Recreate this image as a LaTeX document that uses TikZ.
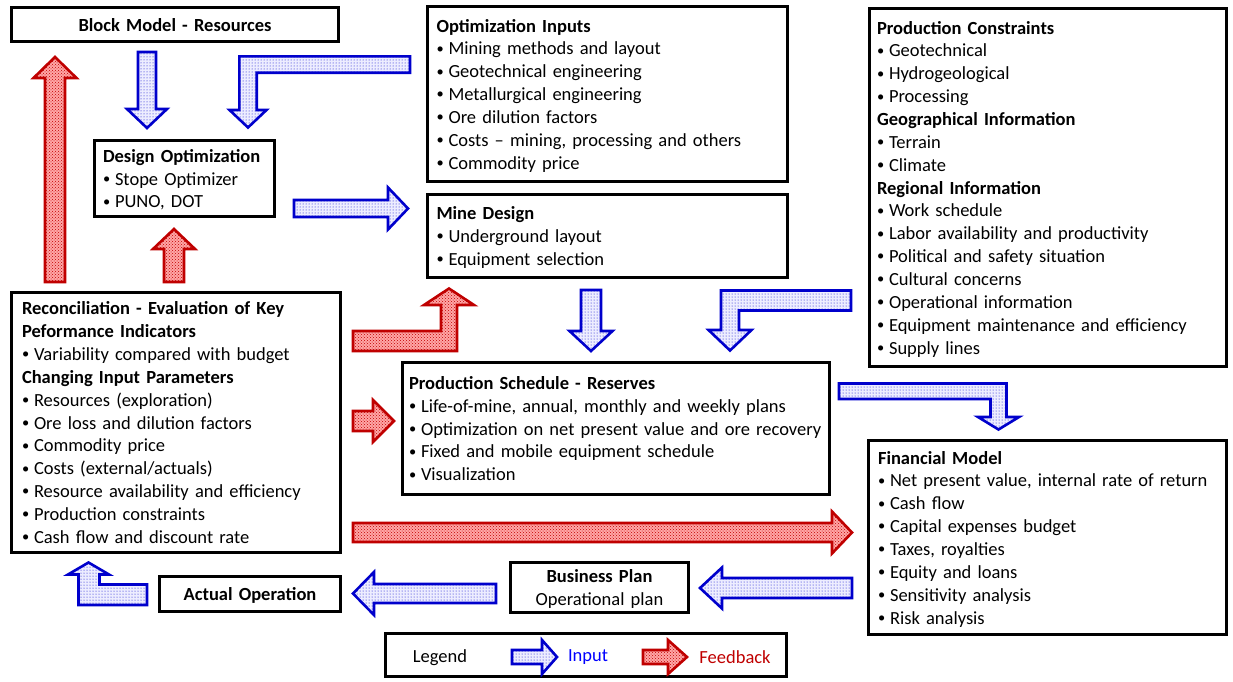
\documentclass[tikz,border=0pt]{standalone}
\usepackage{fontspec}
\setmainfont{Carlito}
\usetikzlibrary{patterns}
\definecolor{inblue}{RGB}{0,0,204}
\definecolor{fbred}{RGB}{192,0,0}
\newcommand\st{\rule[-4.85pt]{0pt}{22.85pt}}
\newcommand\bul{\makebox[12pt][l]{\raisebox{0.09em}{\scalebox{0.78}{\textbullet}}}}
\newcommand\bl[1]{\mbox{\st\bul#1}}
\newcommand\hd[1]{\mbox{\st\textbf{#1}}}
% straight block arrow: style, tail x, tail y, angle, length, head length, half shaft, half head
\newcommand\sarrow[8]{%
  \begin{scope}[shift={(#2,#3)},rotate=#4]
    \path[#1] (0,-#7) -- ({#5-#6},-#7) -- ({#5-#6},-#8) -- (#5,0) -- ({#5-#6},#8) -- ({#5-#6},#7) -- (0,#7) -- cycle;
  \end{scope}}
\tikzset{
  box/.style={draw=black, line width=3pt, fill=white, align=left, inner ysep=0pt,
    font=\fontsize{18.5}{22.85}\selectfont},
  inarr/.style={preaction={fill=blue!7}, preaction={pattern=dots, pattern color=inblue},
    draw=inblue, line width=2.6pt, line join=miter},
  fbarr/.style={preaction={fill=red!35}, preaction={pattern=crosshatch dots, pattern color=fbred},
    draw=fbred, line width=2.6pt, line join=miter},
  lab/.style={font=\fontsize{18.5}{22.85}\selectfont, inner sep=0pt}
}
\begin{document}
\begin{tikzpicture}[x=1pt,y=-1pt]
\path[fill=white,use as bounding box] (0,0) rectangle (1233,681);

% boxes
\node[box, align=center, text width=309pt, minimum height=34pt, inner xsep=9pt] (bm) at (175,24.5)
  {\hd{Block Model - Resources}};
\node[box, text width=342pt, minimum height=175pt, inner xsep=9pt] (oi) at (607.5,94)
  {\hd{Optimization Inputs}\\ \bl{Mining methods and layout}\\ \bl{Geotechnical engineering}\\
   \bl{Metallurgical engineering}\\ \bl{Ore dilution factors}\\
   \bl{Costs -- mining, processing and others}\\ \bl{Commodity price}};
\node[box, text width=342pt, minimum height=83pt, inner xsep=9pt] (md) at (607.5,236)
  {\hd{Mine Design}\\ \bl{Underground layout}\\ \bl{Equipment selection}};
\node[box, text width=163pt, minimum height=76pt, inner xsep=8.5pt] (do) at (184.5,178.5)
  {\hd{Design Optimization}\\ \bl{Stope Optimizer}\\ \bl{PUNO, DOT}};
\node[box, text width=342pt, minimum height=358pt, inner xsep=7.5pt] (pc) at (1048,187.5)
  {\hd{Production Constraints}\\ \bl{Geotechnical}\\ \bl{Hydrogeological}\\ \bl{Processing}\\
   \hd{Geographical Information}\\ \bl{Terrain}\\ \bl{Climate}\\
   \hd{Regional Information}\\ \bl{Work schedule}\\ \bl{Labor availability and productivity}\\
   \bl{Political and safety situation}\\ \bl{Cultural concerns}\\ \bl{Operational information}\\
   \bl{Equipment maintenance and efficiency}\\ \bl{Supply lines}};
\node[box, text width=308pt, minimum height=260pt, inner xsep=10.5pt] (rec) at (176,422.5)
  {\hd{Reconciliation - Evaluation of Key}\\ \hd{Peformance Indicators}\\
   \bl{Variability compared with budget}\\ \hd{Changing Input Parameters}\\
   \bl{Resources (exploration)}\\ \bl{Ore loss and dilution factors}\\ \bl{Commodity price}\\
   \bl{Costs (external/actuals)}\\ \bl{Resource availability and efficiency}\\
   \bl{Production constraints}\\ \bl{Cash flow and discount rate}};
\node[box, text width=414pt, minimum height=132pt, inner xsep=6.5pt] (ps) at (616,428.5)
  {\hd{Production Schedule - Reserves}\\ \bl{Life-of-mine, annual, monthly and weekly plans}\\
   \bl{Optimization on net present value and ore recovery}\\
   \bl{Fixed and mobile equipment schedule}\\ \bl{Visualization}};
\node[box, text width=339pt, minimum height=194pt, inner xsep=9.5pt] (fm) at (1047.5,537.5)
  {\hd{Financial Model}\\ \bl{Net present value, internal rate of return}\\ \bl{Cash flow}\\
   \bl{Capital expenses budget}\\ \bl{Taxes, royalties}\\ \bl{Equity and loans}\\
   \bl{Sensitivity analysis}\\ \bl{Risk analysis}};
\node[box, align=center, text width=163pt, minimum height=35pt, inner xsep=9pt] (ao) at (250,594)
  {\hd{Actual Operation}};
\node[box, align=center, text width=160pt, minimum height=50pt, inner xsep=9pt] (bp) at (599.5,587.5)
  {\hd{Business Plan}\\ \mbox{\st Operational plan}};
\node[box, text width=383pt, minimum height=43pt, inner xsep=9pt] (lg) at (586,655) {};

% legend
\node[lab] (lgt) at (440,657.5) {Legend};
\node[lab, text=blue] (lgi) at (588,657.5) {Input};
\node[lab, text=fbred] (lgf) at (735,657.5) {Feedback};
\sarrow{inarr}{512}{657}{0}{45}{15}{7}{17}
\sarrow{fbarr}{643}{657}{0}{44}{19}{7}{17}

% straight arrows
\sarrow{inarr}{147}{52}{-90}{76}{19}{9}{20}        % block model -> design optimization
\sarrow{inarr}{294}{208.5}{0}{114}{20}{8.5}{21}    % design optimization -> mine design
\sarrow{fbarr}{55}{282}{90}{225}{21}{10}{21.5}      % reconciliation -> block model
\sarrow{fbarr}{174}{282}{90}{53}{20}{10}{21}        % reconciliation -> design optimization
\sarrow{inarr}{591}{290}{-90}{61}{20}{10}{21.5}     % mine design -> production schedule
\sarrow{fbarr}{353}{421}{0}{41}{21}{10}{21}         % reconciliation -> production schedule
\sarrow{fbarr}{353}{532.5}{0}{499}{20}{9.5}{21}     % reconciliation -> financial model
\sarrow{inarr}{852}{588}{180}{152}{22}{10}{20.5}    % financial model -> business plan
\sarrow{inarr}{496}{593.5}{180}{143}{21}{9.5}{21.5} % business plan -> actual operation

% bent arrows
\path[inarr] (410,56.3) -- (239.3,56.3) -- (239.3,110) -- (229.5,110) -- (248,127.5)
  -- (266.5,110) -- (256.7,110) -- (256.7,72.7) -- (410,72.7) -- cycle; % optimization inputs -> design optimization
\path[fbarr] (353,331) -- (441,331) -- (441,305) -- (424,305) -- (449,288.5) -- (474,305)
  -- (457,305) -- (457,351) -- (353,351) -- cycle; % reconciliation -> mine design
\path[inarr] (851,290.5) -- (721,290.5) -- (721,330) -- (708.5,330) -- (730,350.5) -- (751.5,330)
  -- (739,330) -- (739,310.5) -- (851,310.5) -- cycle; % production constraints -> production schedule
\path[inarr] (839,383.5) -- (1006.5,383.5) -- (1006.5,417) -- (1019,417) -- (998.5,429.5)
  -- (978,417) -- (990.5,417) -- (990.5,399) -- (839,399) -- cycle; % production schedule -> financial model
\path[inarr] (147,584.5) -- (99.5,584.5) -- (99.5,574.5) -- (109,574.5) -- (88.5,562.5)
  -- (68,574.5) -- (78.5,574.5) -- (78.5,605) -- (147,605) -- cycle; % actual operation -> reconciliation
\end{tikzpicture}
\end{document}
